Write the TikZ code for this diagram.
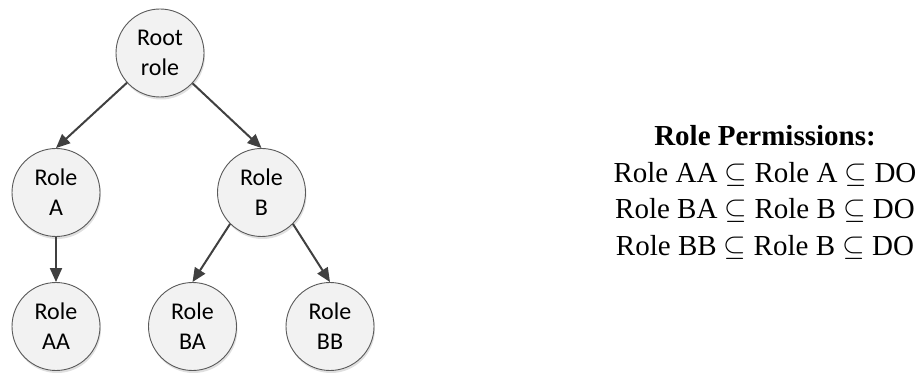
\documentclass[tikz,border=0pt]{standalone}
\usepackage{fontspec}
\setmainfont{Liberation Serif}
\newfontfamily\rolefont{Carlito}
\usetikzlibrary{arrows.meta,shadows}
% let the math symbol font scale freely
\DeclareFontShape{OMS}{cmsy}{m}{n}{<-> cmsy10}{}

\definecolor{edgegray}{HTML}{404040}
\definecolor{rimgray}{HTML}{5A5A5A}
\definecolor{bubble}{HTML}{F2F2F2}

\tikzset{
  role/.style={circle, draw=rimgray, line width=0.9pt, fill=bubble,
    minimum size=88pt, inner sep=0pt, align=center,
    font=\rolefont\fontsize{24}{30}\selectfont,
    drop shadow={shadow xshift=1pt, shadow yshift=-2.5pt, fill=black, opacity=0.12}},
  link/.style={draw=edgegray, line width=2pt,
    -{Triangle[length=14pt,width=12pt]}}
}

\begin{document}
\begin{tikzpicture}[x=1pt,y=1pt]
  \useasboundingbox (0,0) rectangle (920,372);

  % hierarchy of roles
  \node[role] (root) at (160,319) {Root\\role};
  \node[role] (ra)   at (56,179.5)  {Role\\A};
  \node[role] (rb)   at (261.5,179.5) {Role\\B};
  \node[role] (raa)  at (56,45.5)     {Role\\AA};
  \node[role] (rba)  at (192.5,45.5)  {Role\\BA};
  \node[role] (rbb)  at (330,45.5)    {Role\\BB};

  \draw[link] (root.-138) -- (ra.north);
  \draw[link] (root.-43)  -- (rb.north);
  \draw[link] (ra.south)  -- (raa.north);
  \draw[link] (rb.-135)   -- (rba.north);
  \draw[link] (rb.-45)    -- (rbb.north);

  % permission summary
  \node[align=center, inner sep=0pt, font=\fontsize{29}{36.5}\selectfont] (perm) at (765,179.5)
    {\textbf{Role Permissions:}\\
     Role AA $\subseteq$ Role A $\subseteq$ DO\\
     Role BA $\subseteq$ Role B $\subseteq$ DO\\
     Role BB $\subseteq$ Role B $\subseteq$ DO};
\end{tikzpicture}
\end{document}
